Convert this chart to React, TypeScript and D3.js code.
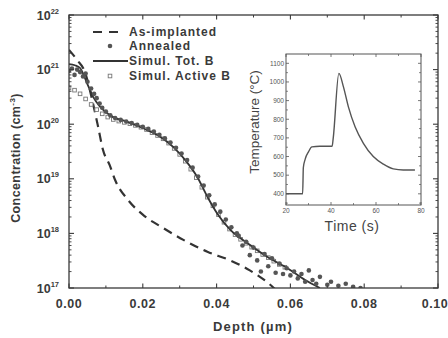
import React from 'react';
import * as d3 from 'd3';

// ---- Main plot data (depth in µm, concentration in cm^-3) ----
const implantedDepth = [0, 0.0022, 0.0043, 0.0063, 0.0079, 0.0092, 0.011, 0.0125, 0.016, 0.02, 0.0255, 0.031, 0.0375, 0.0437, 0.049, 0.054, 0.057];
const implantedConc = [2.3e21, 1.5e21, 9.1e20, 2.75e20, 8.9e19, 3.4e19, 1.8e19, 9.5e18, 4.1e18, 2.2e18, 1.26e18, 7.6e17, 4.6e17, 3.2e17, 2.1e17, 1.23e17, 8e16];

const totDepth = [0, 0.0016, 0.003, 0.0049, 0.0065, 0.0084, 0.011, 0.0158, 0.0212, 0.0247, 0.0283, 0.032, 0.0348, 0.0375, 0.0402, 0.0438, 0.0484, 0.0538, 0.0592, 0.064, 0.068];
const totConc = [1.26e21, 1.2e21, 1.07e21, 5.6e20, 3.2e20, 2.1e20, 1.48e20, 1.1e20, 7.8e19, 5.9e19, 3.8e19, 2.0e19, 1.07e19, 4.7e18, 2.3e18, 1.15e18, 6.6e17, 3.7e17, 2.3e17, 1.4e17, 1.0e17];

const activeDepth = [0, 0.0015, 0.003, 0.0045, 0.006, 0.0075, 0.009, 0.0105, 0.012, 0.0135, 0.015, 0.0165, 0.018, 0.0195, 0.021, 0.0225, 0.024, 0.0255, 0.027, 0.0285, 0.03, 0.0315, 0.033, 0.0345, 0.036, 0.0375, 0.039, 0.0405, 0.042, 0.0435, 0.045, 0.0465, 0.048, 0.0495, 0.051, 0.0525, 0.054, 0.0555, 0.057, 0.0585];
const activeConc = [4.6e20, 4.2e20, 3.6e20, 2.9e20, 2.3e20, 1.85e20, 1.55e20, 1.35e20, 1.22e20, 1.14e20, 1.08e20, 1.02e20, 9.5e19, 8.8e19, 8.0e19, 7.0e19, 6.2e19, 5.4e19, 4.5e19, 3.6e19, 2.8e19, 2.1e19, 1.5e19, 1.05e19, 7.0e18, 4.6e18, 3.2e18, 2.2e18, 1.6e18, 1.2e18, 9.5e17, 7.8e17, 6.6e17, 5.6e17, 4.8e17, 4.1e17, 3.6e17, 3.1e17, 2.7e17, 2.4e17];

const annealDepth = [0, 0.0008, 0.0015, 0.0022, 0.003, 0.0038, 0.0045, 0.005, 0.006, 0.0068, 0.0075, 0.0083, 0.009, 0.01, 0.0112, 0.0125, 0.014, 0.0155, 0.017, 0.0185, 0.02, 0.0215, 0.023, 0.0245, 0.026, 0.0275, 0.029, 0.0305, 0.032, 0.0335, 0.035, 0.0365, 0.038, 0.0395, 0.041, 0.0425, 0.044, 0.0455, 0.046, 0.047, 0.048, 0.049, 0.05, 0.051, 0.052, 0.053, 0.054, 0.055, 0.056, 0.057, 0.058, 0.059, 0.06, 0.061, 0.062, 0.063, 0.064, 0.065, 0.066, 0.067, 0.068, 0.07, 0.071, 0.073, 0.075, 0.077, 0.079];
const annealConc = [9.5e20, 1.05e21, 8.0e20, 1.0e21, 9.0e20, 7.5e20, 8.5e20, 6.0e20, 4.5e20, 3.6e20, 3.0e20, 2.4e20, 2.0e20, 1.7e20, 1.45e20, 1.3e20, 1.2e20, 1.12e20, 1.05e20, 9.7e19, 9.0e19, 8.2e19, 7.3e19, 6.4e19, 5.5e19, 4.6e19, 3.7e19, 2.9e19, 2.2e19, 1.6e19, 1.1e19, 7.5e18, 5.0e18, 3.4e18, 2.5e18, 1.8e18, 1.3e18, 1.0e18, 9e17, 6e17, 7e17, 4e17, 5.5e17, 3.2e17, 2.0e17, 4.2e17, 2.5e17, 3.5e17, 1.9e17, 2.8e17, 1.8e17, 2.3e17, 1.7e17, 2.0e17, 1.5e17, 1.8e17, 1.3e17, 2.1e17, 1.4e17, 1.2e17, 1.6e17, 1.15e17, 1.3e17, 1.1e17, 1.2e17, 1.05e17, 1.0e17];

const xTicks = [0, 0.02, 0.04, 0.06, 0.08, 0.1];
const xTickLabels = ['0.00', '0.02', '0.04', '0.06', '0.08', '0.10'];
const decades = [17, 18, 19, 20, 21, 22];

const legendLabels = ['As-implanted', 'Annealed', 'Simul. Tot. B', 'Simul. Active B'];

// ---- Inset data (time s, temperature °C) ----
const insetTime = [20, 27.4, 27.7, 28.5, 30, 31.5, 35, 40.5, 41, 43.5, 45.5, 47.7, 50.7, 54.4, 58.8, 63.3, 67.7, 72.1, 77.3];
const insetTemp = [400, 400, 540, 585, 625, 652, 655, 655, 700, 1046, 975, 868, 760, 671, 600, 559, 534, 528, 528];
const insetXTicks = [20, 40, 60, 80];
const insetYTicks = [400, 500, 600, 700, 800, 900, 1000, 1100];

const FONT = "'Liberation Sans', Arial, Helvetica, sans-serif";
const INK = '#3a3a3a';

export default function App() {
  const W = 448, H = 338;
  const L = 69, R = 438, T = 15, B = 288;
  const x = d3.scaleLinear().domain([0, 0.1]).range([L, R]);
  const y = d3.scaleLog().domain([1e17, 1e22]).range([B, T]);

  const mk = (xs: number[], ys: number[]) => xs.map((v, i) => [v, ys[i]] as [number, number]);
  const line = d3.line<[number, number]>().x(d => x(d[0])).y(d => y(d[1])).curve(d3.curveMonotoneX);

  const implanted = mk(implantedDepth, implantedConc);
  const tot = mk(totDepth, totConc);
  const active = mk(activeDepth, activeConc);
  const anneal = mk(annealDepth, annealConc);

  const minorX = d3.range(0.01, 0.1, 0.02);
  const minorY: number[] = [];
  decades.slice(0, -1).forEach(dd => { for (let k = 2; k <= 9; k++) minorY.push(k * Math.pow(10, dd)); });

  // inset
  const iL = 286, iR = 421, iT = 54, iB = 205;
  const ix = d3.scaleLinear().domain([20, 80]).range([iL, iR]);
  const iy = d3.scaleLinear().domain([340, 1150]).range([iB, iT]);
  const iline = d3.line<[number, number]>().x(d => ix(d[0])).y(d => iy(d[1])).curve(d3.curveMonotoneX);
  const insetData = mk(insetTime, insetTemp);
  const insetMinorX = [30, 50, 70];
  const insetMinorY = d3.range(350, 1150, 100);

  const legX = 93, legTextX = 128;
  const legY = [32, 46, 61, 76];

  return (
    <svg width={W} height={H} style={{ position: 'absolute', left: 0, top: 0, background: '#fff' }} fontFamily={FONT}>
      <defs>
        <clipPath id="plotclip"><rect x={L} y={T} width={R - L} height={B - T} /></clipPath>
      </defs>
      <rect x={0} y={0} width={W} height={H} fill="#fff" />

      {/* main data */}
      <g clipPath="url(#plotclip)">
        <path d={line(implanted) || ''} fill="none" stroke="#333" strokeWidth={2.2} strokeDasharray="9,6" />
        {active.map((d, i) => (
          <rect key={'a' + i} x={x(d[0]) - 1.8} y={y(d[1]) - 1.8} width={3.6} height={3.6} fill="#fff" stroke="#777" strokeWidth={0.9} />
        ))}
        <path d={line(tot) || ''} fill="none" stroke="#333" strokeWidth={1.8} />
        {anneal.map((d, i) => (
          <circle key={'n' + i} cx={x(d[0])} cy={y(d[1])} r={2.3} fill="#555" />
        ))}
      </g>

      {/* main frame */}
      <rect x={L} y={T} width={R - L} height={B - T} fill="none" stroke={INK} strokeWidth={1.3} />
      {xTicks.map(t => (
        <g key={'xt' + t}>
          <line x1={x(t)} x2={x(t)} y1={B} y2={B - 4.5} stroke={INK} strokeWidth={1.1} />
          <line x1={x(t)} x2={x(t)} y1={T} y2={T + 4.5} stroke={INK} strokeWidth={1.1} />
        </g>
      ))}
      {minorX.map(t => (
        <g key={'xm' + t}>
          <line x1={x(t)} x2={x(t)} y1={B} y2={B - 2.5} stroke={INK} strokeWidth={1} />
          <line x1={x(t)} x2={x(t)} y1={T} y2={T + 2.5} stroke={INK} strokeWidth={1} />
        </g>
      ))}
      {decades.map(dd => (
        <g key={'yt' + dd}>
          <line x1={L} x2={L + 5} y1={y(Math.pow(10, dd))} y2={y(Math.pow(10, dd))} stroke={INK} strokeWidth={1.1} />
          <line x1={R} x2={R - 5} y1={y(Math.pow(10, dd))} y2={y(Math.pow(10, dd))} stroke={INK} strokeWidth={1.1} />
        </g>
      ))}
      {minorY.map((v, i) => (
        <g key={'ym' + i}>
          <line x1={L} x2={L + 2.5} y1={y(v)} y2={y(v)} stroke={INK} strokeWidth={0.9} />
          <line x1={R} x2={R - 2.5} y1={y(v)} y2={y(v)} stroke={INK} strokeWidth={0.9} />
        </g>
      ))}

      {/* tick labels */}
      {xTicks.map((t, i) => (
        <text key={'xl' + t} x={i === xTicks.length - 1 ? x(t) - 3 : x(t)} y={308} textAnchor="middle" fontSize={12.5} fontWeight="bold" fill={INK} letterSpacing={0.6}>{xTickLabels[i]}</text>
      ))}
      {decades.map(dd => (
        <text key={'yl' + dd} x={59} y={y(Math.pow(10, dd)) + 4.5} textAnchor="end" fontSize={12.5} fontWeight="bold" fill={INK}>
          10<tspan fontSize={7.5} dy={-6}>{dd}</tspan>
        </text>
      ))}

      {/* axis titles */}
      <text x={253} y={331} textAnchor="middle" fontSize={13} fontWeight="bold" fill={INK} letterSpacing={1.2}>Depth (µm)</text>
      <text transform="translate(20,158) rotate(-90)" textAnchor="middle" fontSize={12.5} fontWeight="bold" fill={INK} letterSpacing={0.4}>
        Concentration (cm<tspan fontSize={8} dy={-5}>-3</tspan><tspan dy={5}>)</tspan>
      </text>

      {/* legend */}
      <line x1={legX} x2={legX + 27} y1={legY[0]} y2={legY[0]} stroke="#333" strokeWidth={2.2} strokeDasharray="9,7" />
      <circle cx={110} cy={legY[1]} r={2.3} fill="#555" />
      <line x1={legX} x2={legTextX} y1={legY[2]} y2={legY[2]} stroke="#333" strokeWidth={1.8} />
      <rect x={110 - 1.8} y={legY[3] - 1.8} width={3.6} height={3.6} fill="#fff" stroke="#777" strokeWidth={0.9} />
      {legendLabels.map((s, i) => (
        <text key={'lg' + i} x={legTextX + 1} y={legY[i] + 4.3} fontSize={12} fontWeight="bold" fill={INK} letterSpacing={1}>{s}</text>
      ))}

      {/* inset */}
      <rect x={iL} y={iT} width={iR - iL} height={iB - iT} fill="#fff" stroke="#555" strokeWidth={1} />
      <path d={iline(insetData) || ''} fill="none" stroke="#555" strokeWidth={1.4} />
      {insetXTicks.map(t => (
        <g key={'ixt' + t}>
          <line x1={ix(t)} x2={ix(t)} y1={iB} y2={iB - 3} stroke="#555" strokeWidth={0.8} />
          <line x1={ix(t)} x2={ix(t)} y1={iT} y2={iT + 3} stroke="#555" strokeWidth={0.8} />
          <text x={ix(t)} y={iB + 8} textAnchor="middle" fontSize={6.5} fill="#555">{t}</text>
        </g>
      ))}
      {insetMinorX.map(t => (
        <g key={'ixm' + t}>
          <line x1={ix(t)} x2={ix(t)} y1={iB} y2={iB - 2} stroke="#555" strokeWidth={0.7} />
          <line x1={ix(t)} x2={ix(t)} y1={iT} y2={iT + 2} stroke="#555" strokeWidth={0.7} />
        </g>
      ))}
      {insetYTicks.map(t => (
        <g key={'iyt' + t}>
          <line x1={iL} x2={iL + 3} y1={iy(t)} y2={iy(t)} stroke="#555" strokeWidth={0.8} />
          <line x1={iR} x2={iR - 3} y1={iy(t)} y2={iy(t)} stroke="#555" strokeWidth={0.8} />
          <text x={iL - 2} y={iy(t) + 2.3} textAnchor="end" fontSize={6.5} fill="#555">{t}</text>
        </g>
      ))}
      {insetMinorY.map(t => (
        <g key={'iym' + t}>
          <line x1={iL} x2={iL + 2} y1={iy(t)} y2={iy(t)} stroke="#555" strokeWidth={0.7} />
          <line x1={iR} x2={iR - 2} y1={iy(t)} y2={iy(t)} stroke="#555" strokeWidth={0.7} />
        </g>
      ))}
      <text x={352} y={231} textAnchor="middle" fontSize={14} fill="#444" letterSpacing={0.5}>Time (s)</text>
      <text transform="translate(259,122) rotate(-90)" textAnchor="middle" fontSize={13.5} fill="#444">Temperature (°C)</text>
    </svg>
  );
}
